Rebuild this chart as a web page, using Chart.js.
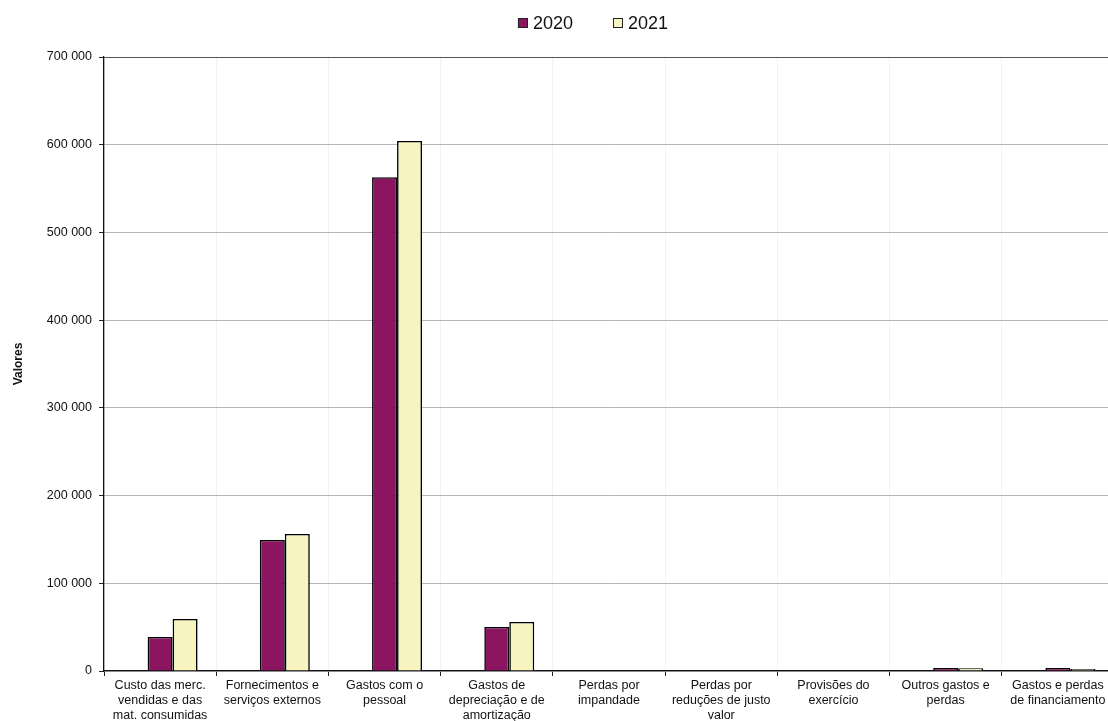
<!DOCTYPE html>
<html>
<head>
<meta charset="utf-8">
<script src="https://cdn.jsdelivr.net/npm/chart.js@4.4.1/dist/chart.umd.min.js"></script>
<style>
  html, body { margin: 0; padding: 0; background: #fff; overflow: hidden; }
  canvas { display: block; }
</style>
</head>
<body>
<canvas id="chart" width="1120" height="721"></canvas>
<script>
// Categorias de gastos (rótulos em várias linhas)
const categories = [
  ['Custo das merc.', 'vendidas e das', 'mat. consumidas'],
  ['Fornecimentos e', 'serviços externos'],
  ['Gastos com o', 'pessoal'],
  ['Gastos de', 'depreciação e de', 'amortização'],
  ['Perdas por', 'impandade'],
  ['Perdas por', 'reduções de justo', 'valor'],
  ['Provisões do', 'exercício'],
  ['Outros gastos e', 'perdas'],
  ['Gastos e perdas', 'de financiamento']
];

const values2020 = [38800, 149400, 563000, 50200, 0, 0, 0, 3500, 3500];
const values2021 = [59300, 156200, 604300, 55900, 0, 0, 0, 3200, 2200];
const seriesLabels = ['2020', '2021'];
const seriesColors = ['#8b1560', '#f7f4c0'];

const yMax = 700000;
const yStep = 100000;

const FONT = "'Liberation Sans', Arial, sans-serif";

// legenda desenhada à mão, centrada por cima do gráfico
const legendPlugin = {
  id: 'topLegend',
  afterDraw(chart) {
    const ctx = chart.ctx;
    const items = chart.data.datasets.filter(d => d.label);
    const box = 10, gapText = 5, gapItem = 40, cy = 23, cx = 593;
    ctx.save();
    ctx.font = '18px ' + FONT;
    let total = 0;
    items.forEach((d, i) => {
      total += box + gapText + ctx.measureText(d.label).width;
      if (i < items.length - 1) total += gapItem;
    });
    let x = cx - total / 2;
    ctx.textBaseline = 'middle';
    items.forEach(d => {
      ctx.fillStyle = d.backgroundColor;
      ctx.fillRect(x, cy - box / 2, box, box);
      ctx.strokeStyle = '#222';
      ctx.lineWidth = 1;
      ctx.strokeRect(x + 0.5, cy - box / 2 + 0.5, box - 1, box - 1);
      x += box + gapText;
      ctx.fillStyle = '#111';
      ctx.fillText(d.label, x, cy + 1);
      x += ctx.measureText(d.label).width + gapItem;
    });
    ctx.restore();
  }
};

new Chart(document.getElementById('chart'), {
  type: 'bar',
  data: {
    labels: categories,
    datasets: [
      // série vazia que ocupa a primeira posição em cada grupo
      { label: '', data: categories.map(() => null), backgroundColor: 'rgba(0,0,0,0)' },
      {
        label: seriesLabels[0],
        data: values2020,
        backgroundColor: seriesColors[0],
        borderColor: '#000',
        borderWidth: 1.6,
        borderSkipped: 'start'
      },
      {
        label: seriesLabels[1],
        data: values2021,
        backgroundColor: seriesColors[1],
        borderColor: '#000',
        borderWidth: 1.6,
        borderSkipped: 'start'
      }
    ]
  },
  options: {
    responsive: false,
    animation: false,
    categoryPercentage: 0.668,
    barPercentage: 1,
    layout: { padding: { top: 57, right: 6, left: 0, bottom: 0 } },
    plugins: {
      legend: { display: false },
      tooltip: { enabled: false }
    },
    scales: {
      x: {
        afterFit(scale) { scale.height = 50; },
        grid: {
          offset: true,
          drawOnChartArea: true,
          color: '#f2f2f2',
          tickColor: '#222',
          tickLength: 5
        },
        border: { color: '#111', width: 1.3 },
        ticks: {
          autoSkip: false,
          maxRotation: 0,
          padding: 2,
          color: '#111',
          font: { family: FONT, size: 12.5, lineHeight: 1.2 }
        }
      },
      y: {
        min: 0,
        max: yMax,
        afterFit(scale) { scale.width = 104; },
        grid: {
          color: ctx => ctx.tick && ctx.tick.value === yMax ? '#555' : '#b4b4bc',
          tickColor: '#222',
          tickLength: 5
        },
        border: { color: '#111', width: 1.3 },
        ticks: {
          stepSize: yStep,
          padding: 7,
          color: '#111',
          font: { family: FONT, size: 12.5 },
          callback: v => String(v).replace(/\B(?=(\d{3})+(?!\d))/g, ' ')
        },
        title: {
          display: true,
          text: 'Valores',
          color: '#111',
          padding: { top: 11, bottom: 0 },
          font: { family: FONT, size: 12, weight: 'bold' }
        }
      }
    }
  },
  plugins: [legendPlugin]
});
</script>
</body>
</html>
